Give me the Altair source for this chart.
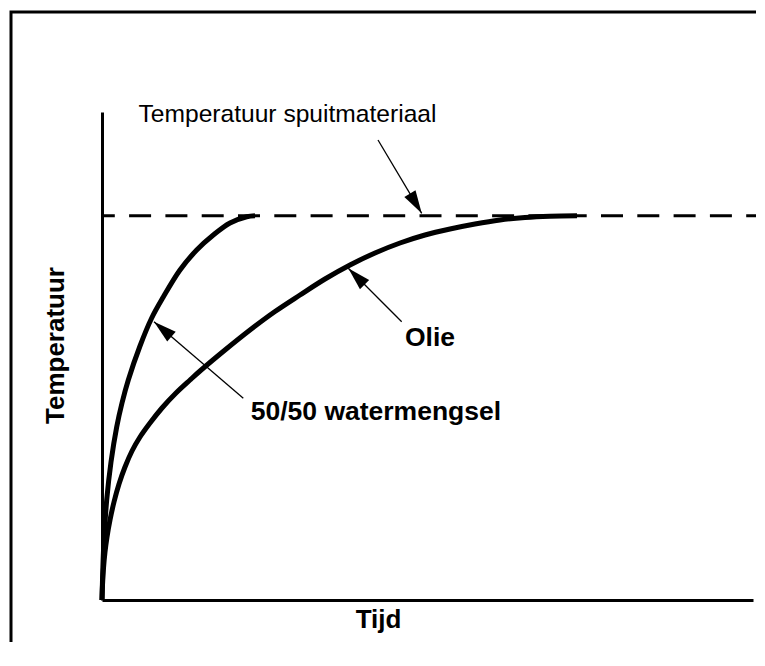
import math
import altair as alt
import pandas as pd

# ---------------- data ----------------
# arbitrary units: time 0..651 along the axis, temperature 0..488 up the axis;
# the temperature of the injected material (asymptote) sits at 384.3
fast_t = [0, 0.8, 2, 4.7, 9, 14.7, 20, 26.3, 38, 49.7, 61.3, 78, 94.7, 111.3,
          128, 144.7, 153]
fast_T = [0, 30, 60, 100, 138, 173, 197, 220, 254, 282, 303, 330, 350, 365,
          377, 383.3, 384.3]

slow_t = [0, 0.5, 1.5, 3, 5, 8, 12, 17, 23, 30, 38, 48, 60, 74, 88, 98, 123,
          148, 173, 198, 223, 248, 273, 298, 323, 348, 373, 398, 423, 448, 475]
slow_T = [0, 15, 32, 48, 63, 80, 98, 116, 133, 149, 163, 177, 192, 207, 220,
          229, 250, 270, 288.5, 305, 321, 335, 347, 357, 365, 371, 376, 380,
          382.5, 383.8, 384.3]

target_T = 384.3
target_t = [0, 654]

labels = ["Temperatuur spuitmateriaal", "Olie", "50/50 watermengsel"]
label_t = [36.5, 303, 148.7]
label_T = [478, 254, 180]
label_bold = [False, True, True]

arrow_t0 = [276, 299.7, 141.3]
arrow_T0 = [460, 278.3, 201.7]
arrow_t1 = [319.7, 246.3, 52]
arrow_T1 = [386.7, 331.7, 278.3]

frame_t = [-91, -91, 654]
frame_T = [-42, 588, 588]

# ---------------- layout ----------------
W, H = 651, 488
X_DOM = [0, 651]
Y_DOM = [0, 488]
px_t = W / (X_DOM[1] - X_DOM[0])
px_T = H / (Y_DOM[1] - Y_DOM[0])
FONT = "Liberation Sans"

xs = alt.Scale(domain=X_DOM, nice=False, zero=False)
ys = alt.Scale(domain=Y_DOM, nice=False, zero=False)

curves = pd.DataFrame(
    [{"t": a, "T": b, "s": "50/50 watermengsel", "i": i} for i, (a, b) in enumerate(zip(fast_t, fast_T))]
    + [{"t": a, "T": b, "s": "Olie", "i": i} for i, (a, b) in enumerate(zip(slow_t, slow_T))]
)

arrows = pd.DataFrame({"t": arrow_t0, "T": arrow_T0, "t2": arrow_t1, "T2": arrow_T1})
arrows["angle"] = [
    (math.degrees(math.atan2((b - a) * px_t, (d - c) * px_T)) + 360) % 360
    for a, b, c, d in zip(arrow_t0, arrow_t1, arrow_T0, arrow_T1)
]

texts = pd.DataFrame({"t": label_t, "T": label_T, "label": labels, "bold": label_bold})

target = pd.DataFrame({"t": target_t, "T": [target_T] * len(target_t), "i": list(range(len(target_t)))})
frame = pd.DataFrame({"t": frame_t, "T": frame_T, "i": list(range(len(frame_t)))})

x_axis = alt.Axis(title="Tijd", domain=True, domainColor="black", domainWidth=3,
                  ticks=False, labels=False, grid=False,
                  titleFont=FONT, titleFontSize=26, titleFontWeight="bold", titleColor="black",
                  titleX=276, titleY=27, titleAlign="center", titleBaseline="alphabetic")
y_axis = alt.Axis(title="Temperatuur", domain=True, domainColor="black", domainWidth=3,
                  ticks=False, labels=False, grid=False,
                  titleFont=FONT, titleFontSize=26, titleFontWeight="bold", titleColor="black",
                  titleX=-39, titleY=233, titleAngle=270, titleAlign="center",
                  titleBaseline="alphabetic")

X = lambda f: alt.X(f, scale=xs, axis=x_axis)
Y = lambda f: alt.Y(f, scale=ys, axis=y_axis)

base_curves = alt.Chart(curves).mark_line(
    color="black", strokeWidth=5, strokeCap="butt", interpolate="catmull-rom"
).encode(
    x=X("t:Q"), y=Y("T:Q"), detail="s:N", order="i:Q",
)

dash = alt.Chart(target).mark_line(
    color="black", strokeWidth=3, strokeDash=[22, 14.3], strokeDashOffset=9.2,
    strokeCap="butt",
).encode(x=X("t:Q"), y=Y("T:Q"), order="i:Q")

frame_line = alt.Chart(frame).mark_line(
    color="black", strokeWidth=3, strokeCap="butt", strokeJoin="miter",
).encode(x=X("t:Q"), y=Y("T:Q"), order="i:Q")

shafts = alt.Chart(arrows).mark_rule(color="black", strokeWidth=1.3).encode(
    x=X("t:Q"), x2="t2:Q", y=Y("T:Q"), y2="T2:Q",
)

heads = alt.Chart(arrows).mark_point(
    shape="M0,0L0.283,1L-0.283,1Z", filled=True, color="black", opacity=1,
    size=2116, strokeWidth=0,
).encode(
    x=X("t2:Q"), y=Y("T2:Q"), angle=alt.Angle("angle:Q", scale=None),
)

text_normal = alt.Chart(texts).transform_filter("!datum.bold").mark_text(
    font=FONT, fontSize=24.6, fontWeight="normal", color="black",
    align="left", baseline="alphabetic",
).encode(x=X("t:Q"), y=Y("T:Q"), text="label:N")

text_bold = alt.Chart(texts).transform_filter("datum.bold").mark_text(
    font=FONT, fontSize=26.5, fontWeight="bold", color="black",
    align="left", baseline="alphabetic",
).encode(x=X("t:Q"), y=Y("T:Q"), text="label:N")

chart = alt.layer(
    base_curves, dash, frame_line, shafts, heads, text_normal, text_bold
).properties(
    width=W, height=H,
    padding={"left": 94, "top": 104, "right": 4, "bottom": 50},
    autosize=alt.AutoSizeParams(type="none"),
    background="white",
).configure_view(stroke=None)

chart.save("out.html", embed_options={"renderer": "svg", "actions": False})
